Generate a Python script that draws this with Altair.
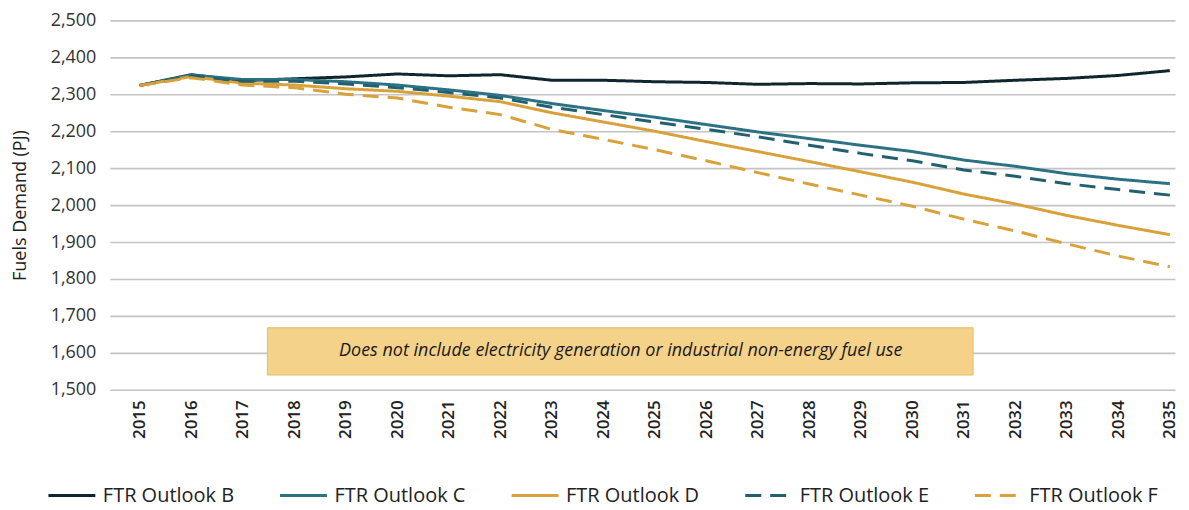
import altair as alt
import pandas as pd

years = list(range(2015, 2036))
series_names = ["FTR Outlook B", "FTR Outlook C", "FTR Outlook D", "FTR Outlook E", "FTR Outlook F"]

outlook_b = [2324, 2353, 2337, 2342, 2347, 2355, 2350, 2353, 2338, 2338, 2334, 2332, 2327, 2329, 2328, 2331, 2332, 2338, 2343, 2351, 2364]
outlook_c = [2324, 2352, 2340, 2340, 2334, 2325, 2312, 2297, 2275, 2256, 2238, 2218, 2198, 2180, 2162, 2145, 2122, 2105, 2085, 2070, 2058]
outlook_d = [2324, 2348, 2330, 2325, 2315, 2308, 2295, 2280, 2250, 2225, 2200, 2172, 2145, 2118, 2090, 2062, 2030, 2003, 1972, 1945, 1920]
outlook_e = [2324, 2350, 2335, 2335, 2328, 2318, 2305, 2290, 2265, 2245, 2225, 2205, 2185, 2162, 2140, 2120, 2095, 2078, 2058, 2042, 2027]
outlook_f = [2324, 2345, 2325, 2318, 2300, 2290, 2265, 2245, 2205, 2178, 2150, 2120, 2088, 2057, 2027, 1997, 1962, 1930, 1895, 1862, 1833]

y_ticks = [1500, 1600, 1700, 1800, 1900, 2000, 2100, 2200, 2300, 2400, 2500]

note_text = "Does not include electricity generation or industrial non-energy fuel use"

colors = ["#10262f", "#2b7384", "#d9a13a", "#23606f", "#d9a13a"]
dashes = [[1, 0], [1, 0], [1, 0], [16, 9], [16, 9]]

all_values = [outlook_b, outlook_c, outlook_d, outlook_e, outlook_f]
rows = []
for name, vals in zip(series_names, all_values):
    for y, v in zip(years, vals):
        rows.append({"Year": y, "Value": v, "Series": name})
df = pd.DataFrame(rows)

FONT = "Open Sans"

x_scale = alt.Scale(domain=[2014.42, 2035.1], nice=False, zero=False)
y_scale = alt.Scale(domain=[1500, 2500], nice=False, zero=False)

x_axis = alt.Axis(values=years, format="d", labelAngle=-90, grid=False, ticks=False,
                  domain=False, title=None, labelFontSize=17, labelColor="#222",
                  labelPadding=10, labelFont=FONT, labelFontWeight=600, labelOverlap=False)
y_axis = alt.Axis(values=y_ticks, format=",d", grid=True, labelOverlap=False,
                  gridColor="#c4c4c4", gridWidth=1.6, ticks=False, domain=False,
                  title="Fuels Demand (PJ)", titleFontSize=18, titleFontWeight="normal",
                  titleFont=FONT, titleColor="#222", titlePadding=21,
                  labelFontSize=18, labelColor="#333", labelFont=FONT, labelPadding=14)

legend_kw = dict(title=None, orient="none", legendX=-63, legendY=451,
                 direction="horizontal", columns=5, symbolType="stroke",
                 symbolSize=2209, symbolStrokeWidth=3, labelFontSize=20,
                 labelFont=FONT, labelColor="#222", columnPadding=39,
                 labelOffset=6, labelLimit=300)

lines = alt.Chart(df).mark_line(strokeWidth=3).encode(
    x=alt.X("Year:Q", scale=x_scale, axis=x_axis),
    y=alt.Y("Value:Q", scale=y_scale, axis=y_axis),
    color=alt.Color("Series:N", scale=alt.Scale(domain=series_names, range=colors),
                    legend=alt.Legend(**legend_kw)),
    strokeDash=alt.StrokeDash("Series:N", scale=alt.Scale(domain=series_names, range=dashes),
                              legend=alt.Legend(**legend_kw)),
    order="Series:N",
)

box = alt.Chart().mark_rect(fill="#f5d28a", stroke="#e6bd68", strokeWidth=1).encode(
    x=alt.XDatum(2017.48, scale=x_scale, axis=x_axis), x2=alt.X2Datum(2031.18),
    y=alt.YDatum(1668, scale=y_scale, axis=y_axis), y2=alt.Y2Datum(1540),
)

note = alt.Chart().mark_text(fontSize=18, fontStyle="italic", font=FONT, color="#1a1a1a").encode(
    x=alt.XDatum(2024.34, scale=x_scale, axis=x_axis),
    y=alt.YDatum(1604, scale=y_scale, axis=y_axis),
    text=alt.value(note_text)
)

chart = alt.layer(lines, box, note).properties(
    width=1067, height=370,
    autosize=alt.AutoSizeParams(type="none"),
    padding={"left": 102, "top": 12, "right": 6, "bottom": 120},
    background="white",
).configure_view(stroke=None)

chart.save("out.html", embed_options={"renderer": "svg", "actions": False})
